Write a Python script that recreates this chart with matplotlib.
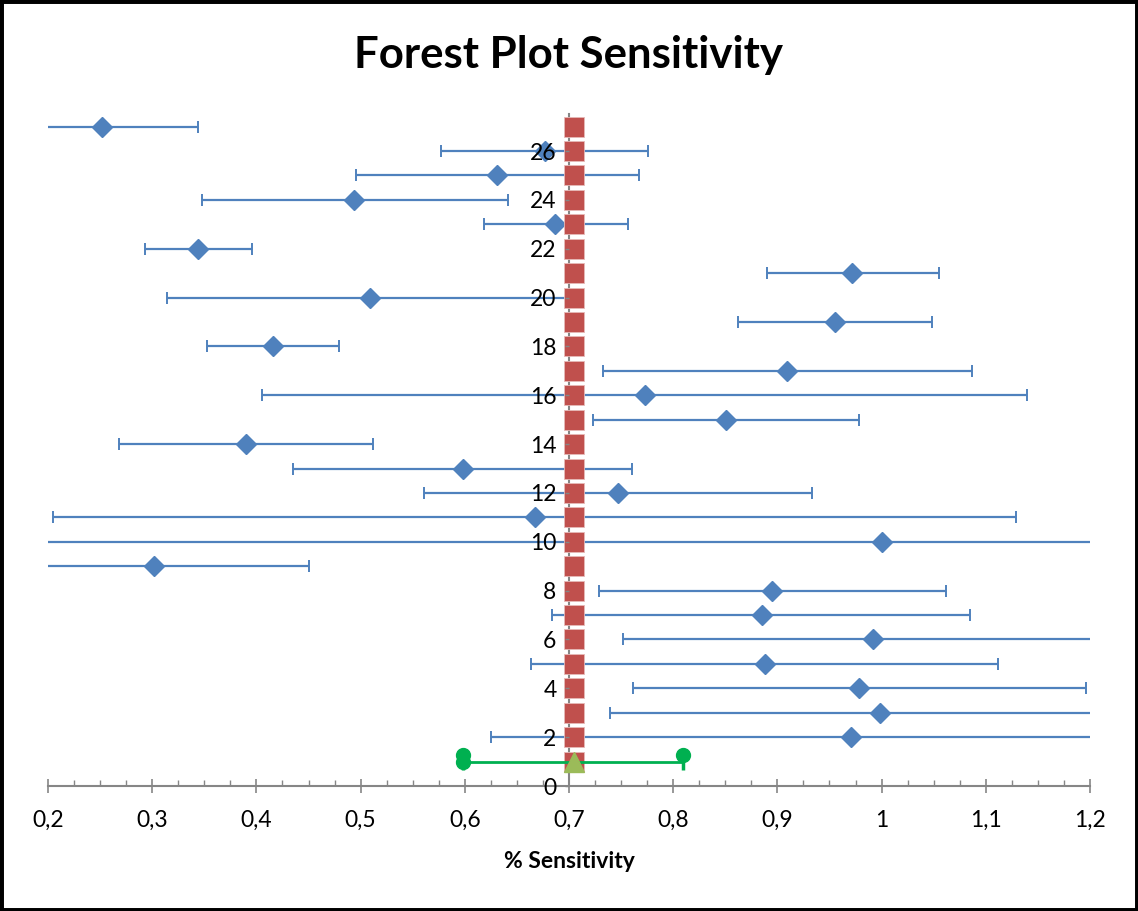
import matplotlib.pyplot as plt
from matplotlib.patches import Rectangle
from matplotlib.ticker import FuncFormatter, MultipleLocator
import numpy as np

plt.rcParams["font.family"] = ["Lato", "DejaVu Sans"]

# study rows (y position), point estimate and confidence interval
study_y = [27, 26, 25, 24, 23, 22, 21, 20, 19, 18, 17, 16, 15, 14,
           13, 12, 11, 10, 9, 8, 7, 6, 5, 4, 3, 2]
sensitivity = [0.252, 0.677, 0.631, 0.494, 0.687, 0.344, 0.972, 0.509, 0.955,
               0.416, 0.909, 0.773, 0.851, 0.390, 0.598, 0.747, 0.667, 1.000,
               0.302, 0.895, 0.885, 0.992, 0.888, 0.978, 0.998, 0.971]
ci_low = [0.160, 0.577, 0.496, 0.348, 0.618, 0.293, 0.890, 0.314, 0.862,
          0.353, 0.733, 0.405, 0.723, 0.268, 0.435, 0.561, 0.205, 0.160,
          0.154, 0.729, 0.684, 0.752, 0.664, 0.761, 0.739, 0.625]
ci_high = [0.344, 0.776, 0.767, 0.641, 0.757, 0.396, 1.055, 0.703, 1.048,
           0.479, 1.087, 1.140, 0.978, 0.512, 0.760, 0.933, 1.129, 1.840,
           0.450, 1.062, 1.085, 1.232, 1.112, 1.196, 1.257, 1.317]

# pooled estimate
pooled_y = 1
pooled = 0.705
pooled_low = 0.598
pooled_high = 0.809
pooled_line_y = list(range(1, 28))

blue = "#4F81BD"
red = "#C0504D"
green = "#00B050"
olive = "#9BBB59"
grey = "#868686"

fig = plt.figure(figsize=(11.38, 9.11), dpi=100)
ax = fig.add_axes([0.0422, 0.1372, 0.9156, 0.7372])

est = np.array(sensitivity)
lo = est - np.array(ci_low)
hi = np.array(ci_high) - est

# study error bars with diamonds
ax.errorbar(sensitivity, study_y, xerr=[lo, hi], fmt="D", color=blue,
            ecolor=blue, elinewidth=1.6, capsize=4.5, capthick=1.4,
            markersize=10, zorder=3)

# pooled vertical line of squares
ax.plot([pooled] * len(pooled_line_y), pooled_line_y, linestyle="none",
        marker="s", markersize=15, color=red, markeredgecolor="#E6B9B8",
        markeredgewidth=0.6, zorder=4)

# pooled CI
ax.errorbar([pooled], [pooled_y], xerr=[[pooled - pooled_low], [pooled_high - pooled]],
            fmt="none", ecolor=green, elinewidth=2, capsize=6, capthick=2.5,
            zorder=5)
ax.plot([pooled_low, pooled_high], [pooled_y + 0.25, pooled_y + 0.25],
        linestyle="none", marker="o", markersize=10, color=green, zorder=5)
ax.plot([pooled_low], [pooled_y], linestyle="none", marker="o",
        markersize=10, color=green, zorder=5)
ax.plot([pooled], [pooled_y], linestyle="none", marker="^", markersize=14,
        color=olive, zorder=6)

ax.set_xlim(0.2, 1.2)
ax.set_ylim(0, 27.5)

# axis lines crossing at (0.7, 0)
ax.spines["top"].set_visible(False)
ax.spines["right"].set_visible(False)
ax.spines["left"].set_position(("data", 0.7))
ax.spines["bottom"].set_position(("data", 0))
for side in ["left", "bottom"]:
    ax.spines[side].set_color(grey)
    ax.spines[side].set_linewidth(1.5)
    ax.spines[side].set_zorder(1)

ax.xaxis.set_major_locator(MultipleLocator(0.1))
ax.xaxis.set_minor_locator(MultipleLocator(0.025))
ax.xaxis.set_major_formatter(FuncFormatter(lambda v, _: f"{v:g}".replace(".", ",")))
ax.tick_params(axis="x", which="major", direction="inout", length=10,
               width=1.2, color=grey, labelsize=16.5, pad=12)
ax.tick_params(axis="x", which="minor", direction="in", length=4.5,
               width=1.0, color=grey)

ax.yaxis.set_major_locator(MultipleLocator(2))
ax.tick_params(axis="y", direction="out", length=3, width=1.0, color=grey,
               labelsize=16.5, pad=6)
ax.yaxis.set_zorder(7)

ax.set_xlabel("% Sensitivity", fontsize=16.5, fontweight="bold", labelpad=15)
fig.text(0.5, 0.94, "Forest Plot Sensitivity", ha="center", va="center",
         fontsize=31.5, fontweight="bold")

# outer border
fig.patches.append(Rectangle((0, 0), 1, 1, transform=fig.transFigure,
                             fill=False, edgecolor="black", linewidth=5))

fig.savefig("out.png", dpi=100)
